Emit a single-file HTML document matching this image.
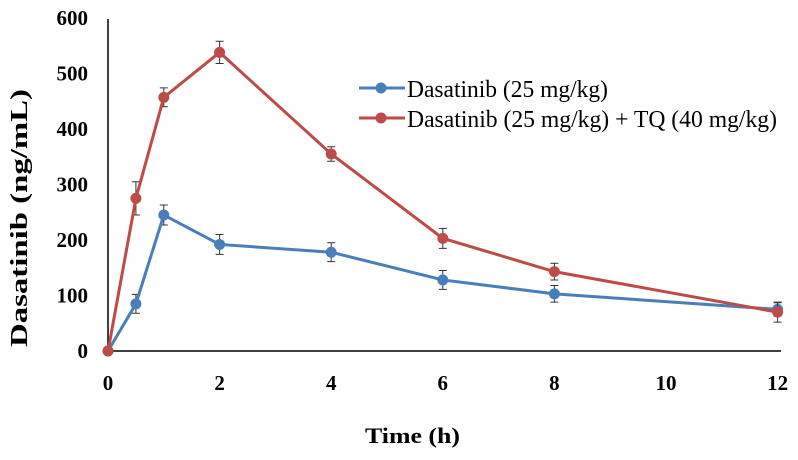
<!DOCTYPE html>
<html><head><meta charset="utf-8"><style>
body{margin:0;background:#fff;}
svg text{font-family:"Liberation Serif",serif;}
</style></head><body>
<svg id="chart" width="798" height="455"></svg>
<script>
const xValues=[0,0.5,1,2,4,6,8,12];
const blueValues=[0,85,245,192,178,128,103,75];
const blueErr=[0,17,18,18,17,17,15,12];
const redValues=[0,275,457,538,355,203,143,70];
const redErr=[0,30,17,20,13,18,15,18];
const xTicks=[0,2,4,6,8,10,12];
const yTicks=[0,100,200,300,400,500,600];
const NS="http://www.w3.org/2000/svg";
const svg=document.getElementById('chart');
const X=v=>108+v*55.8;
const Y=v=>351-v*333/600;
function mk(t,a,p){const e=document.createElementNS(NS,t);for(const k in a)e.setAttribute(k,a[k]);(p||svg).appendChild(e);return e;}
let ax=mk('line',{x1:108,y1:19,x2:108,y2:351,stroke:'#000','stroke-width':1.5});


ax=mk('line',{x1:108,y1:351,x2:781,y2:351,stroke:'#000','stroke-width':1.5});


yTicks.forEach(v=>{const t=mk('text',{x:88,y:Y(v)+7,'text-anchor':'end','font-size':21,'font-weight':'bold'});t.textContent=v;

});
xTicks.forEach(v=>{const t=mk('text',{x:X(v),y:390,'text-anchor':'middle','font-size':21,'font-weight':'bold'});t.textContent=v;

});
let t=mk('text',{x:365,y:443,'font-size':22,'font-weight':'bold',textLength:95,lengthAdjust:'spacingAndGlyphs'});t.textContent='Time (h)';


t=mk('text',{x:-347,y:27,'font-size':24,'font-weight':'bold',transform:'rotate(-90)',textLength:258,lengthAdjust:'spacingAndGlyphs'});t.textContent='Dasatinib (ng/mL)';


function series(vals,errs,color,name){
 const g=mk('g',{});
 
 
 vals.forEach((v,i)=>{if(!errs[i])return;const x=X(xValues[i]);
  mk('path',{d:`M${x},${Y(v+errs[i])}V${Y(v-errs[i])}M${x-4},${Y(v+errs[i])}h8M${x-4},${Y(v-errs[i])}h8`,stroke:'#333','stroke-width':1,fill:'none'},g);});
 mk('polyline',{points:vals.map((v,i)=>X(xValues[i])+','+Y(v)).join(' '),fill:'none',stroke:color,'stroke-width':3},g);
 vals.forEach((v,i)=>{const c=mk('circle',{cx:X(xValues[i]),cy:Y(v),r:5.5,fill:color},g);
  
  });
}
series(blueValues,blueErr,'#4a7ebb','series-dasatinib');
series(redValues,redErr,'#be4b48','series-dasatinib-tq');
function legend(y,color,label,len){const g=mk('g',{});
 
 
 mk('line',{x1:359,y1:y,x2:405,y2:y,stroke:color,'stroke-width':3},g);
 mk('circle',{cx:381,cy:y,r:5.5,fill:color},g);
 const tx=mk('text',{x:407,y:y+9,'font-size':24,textLength:len,lengthAdjust:'spacingAndGlyphs'},g);tx.textContent=label;}
legend(88,'#4a7ebb','Dasatinib (25 mg/kg)',201);
legend(118,'#be4b48','Dasatinib (25 mg/kg) + TQ (40 mg/kg)',370);
</script>
</body></html>
